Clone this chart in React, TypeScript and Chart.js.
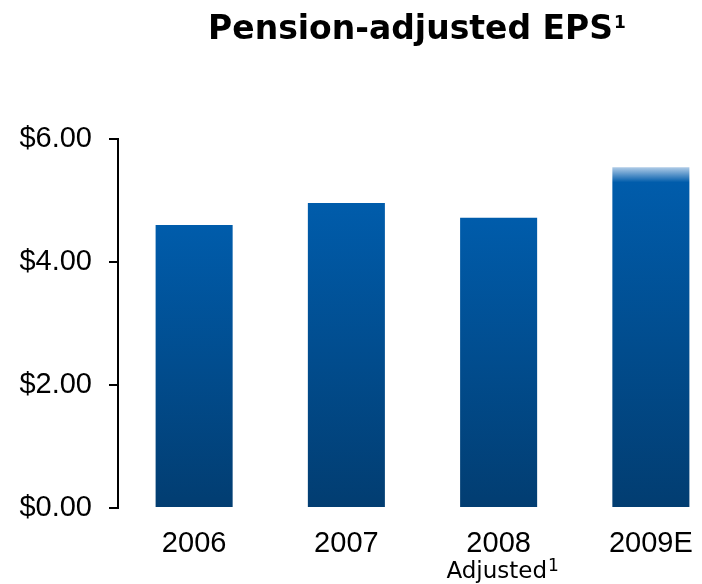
import React, { useEffect, useRef } from "react";
import { Chart, registerables } from "chart.js";

Chart.register(...registerables);

const categories = ["2006", "2007", "2008", "2009E"];
const subLabels = ["", "", "Adjusted", ""];
const subLabelNotes = ["", "", "1", ""];
const epsValues = [4.6, 4.96, 4.72, 5.54];
const yTickValues = [0, 2, 4, 6];
const titleText = "Pension-adjusted EPS";
const titleNote = "1";
const fadedTopIndex = 3;

const TOP_BLUE = "#005CAB";
const BOTTOM_BLUE = "#023D71";
const FADE_BLUE = "#AFCBE7";

function drawWithSup(
  ctx: CanvasRenderingContext2D,
  text: string,
  sup: string,
  cx: number,
  baseline: number,
  mainFont: string,
  supFont: string,
  raise: number
) {
  ctx.font = mainFont;
  const wMain = ctx.measureText(text).width;
  ctx.font = supFont;
  const wSup = sup ? ctx.measureText(sup).width + 1 : 0;
  const x0 = cx - (wMain + wSup) / 2;
  ctx.textAlign = "left";
  ctx.textBaseline = "alphabetic";
  ctx.font = mainFont;
  ctx.fillText(text, x0, baseline);
  if (sup) {
    ctx.font = supFont;
    ctx.fillText(sup, x0 + wMain + 1, baseline - raise);
  }
}

export default function App() {
  const canvasRef = useRef<HTMLCanvasElement | null>(null);

  useEffect(() => {
    const canvas = canvasRef.current;
    if (!canvas) return;

    const overlay = {
      id: "overlayText",
      afterDraw(chart: any) {
        const ctx = chart.ctx;
        ctx.save();
        ctx.fillStyle = "#000";
        drawWithSup(
          ctx,
          titleText,
          titleNote,
          409,
          31,
          "bold 33px 'DejaVu Sans', sans-serif",
          "bold 17px 'DejaVu Sans', sans-serif",
          11
        );
        const xs = chart.scales.x;
        subLabels.forEach((s, i) => {
          if (!s) return;
          drawWithSup(
            ctx,
            s,
            subLabelNotes[i],
            xs.getPixelForValue(i) + 4,
            570,
            "23px 'DejaVu Sans', sans-serif",
            "17px 'DejaVu Sans', sans-serif",
            7
          );
        });
        ctx.restore();
      },
    };

    const chart = new Chart(canvas, {
      type: "bar",
      data: {
        labels: categories,
        datasets: [
          {
            data: epsValues,
            categoryPercentage: 1,
            barPercentage: 0.506,
            borderWidth: 0,
            backgroundColor: (c: any) => {
              const ch = c.chart;
              if (!ch.chartArea) return TOP_BLUE;
              const ys = ch.scales.y;
              const v = epsValues[c.dataIndex];
              const top = ys.getPixelForValue(v);
              const bottom = ys.getPixelForValue(0);
              const g = ch.ctx.createLinearGradient(0, top, 0, bottom);
              if (c.dataIndex === fadedTopIndex) {
                const f = Math.min(0.5, 15 / (bottom - top));
                g.addColorStop(0, FADE_BLUE);
                g.addColorStop(f, TOP_BLUE);
              } else {
                g.addColorStop(0, TOP_BLUE);
              }
              g.addColorStop(1, BOTTOM_BLUE);
              return g;
            },
          },
        ],
      },
      options: {
        animation: false,
        responsive: false,
        maintainAspectRatio: false,
        layout: { padding: { top: 131, right: 11, left: 0, bottom: 0 } },
        plugins: {
          legend: { display: false },
          title: { display: false },
          tooltip: { enabled: false },
        },
        scales: {
          x: {
            grid: { display: false },
            border: { display: false },
            ticks: {
              color: "#000",
              padding: 11,
              maxRotation: 0,
              font: { family: "'Liberation Sans', Arial, sans-serif", size: 29 },
            },
            afterFit(scale: any) {
              scale.height = 76;
            },
          },
          y: {
            min: 0,
            max: 6,
            grid: {
              drawOnChartArea: false,
              drawTicks: true,
              tickLength: 9,
              color: "#000",
              lineWidth: 2,
            },
            border: { display: true, color: "#000", width: 2 },
            afterBuildTicks(scale: any) {
              scale.ticks = yTickValues.map((v) => ({ value: v }));
            },
            ticks: {
              color: "#000",
              padding: 17,
              font: { family: "'Liberation Sans', Arial, sans-serif", size: 29 },
              callback: (v: any) => "$" + Number(v).toFixed(2),
            },
            afterFit(scale: any) {
              scale.width = 110;
            },
          },
        },
      },
      plugins: [overlay],
    } as any);

    return () => chart.destroy();
  }, []);

  return (
    <div style={{ width: 686, height: 576, overflow: "hidden" }}>
      <canvas ref={canvasRef} width={730} height={576} style={{ display: "block" }} />
    </div>
  );
}
